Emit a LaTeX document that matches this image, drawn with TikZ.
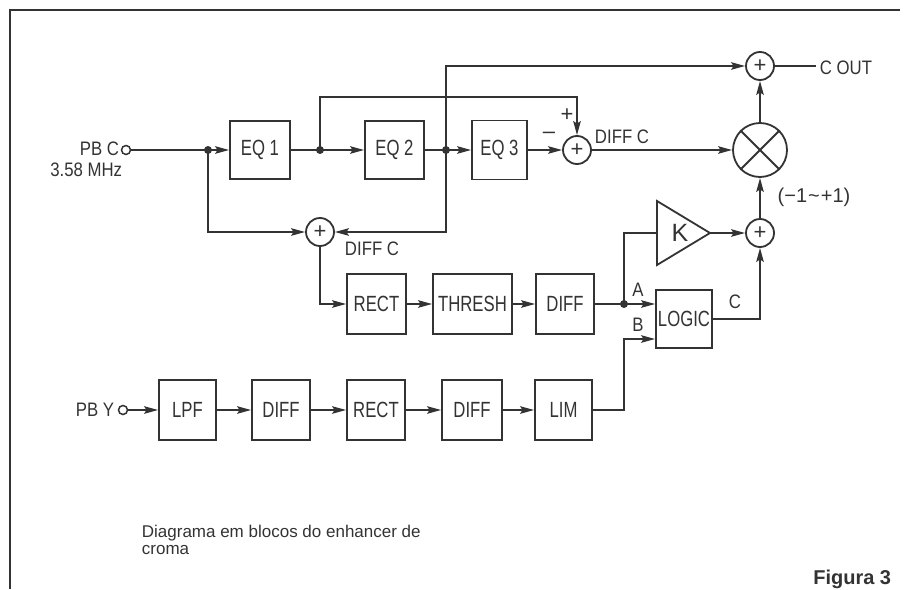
\documentclass[tikz,border=0pt]{standalone}
\usepackage{fontspec}
\setmainfont{Liberation Sans}
\newfontfamily\cond{Liberation Sans}[FakeStretch=0.76]
\newfontfamily\condl{Liberation Sans}[FakeStretch=0.86]
\usetikzlibrary{arrows.meta}
\definecolor{ink}{HTML}{333333}
\newcommand\bxfont{\cond\fontsize{22}{24}\selectfont}
\newcommand\lbfont{\condl\fontsize{19.5}{21}\selectfont}
\begin{document}
\begin{tikzpicture}[x=1pt,y=-1pt,line width=1.8pt,color=ink,
  >={Stealth[length=14pt,width=7.5pt,inset=2.5pt]},
  blk/.style n args={2}{draw,minimum width=#1,minimum height=#2,inner sep=0pt,font=\bxfont},
  sumn/.style={draw,circle,minimum size=28pt,inner sep=0pt,font=\fontsize{22}{24}\selectfont},
  lbl/.style={font=\lbfont,inner sep=0pt},
  jdot/.style={circle,fill,inner sep=0pt,minimum size=8pt},
  term/.style={circle,draw,fill=white,inner sep=0pt,minimum size=9pt,line width=1.5pt}]
\useasboundingbox (0,0) rectangle (907,589);
% frame
\draw[line width=2pt] (10,589) -- (10,10) -- (900,10);

% inputs
\node[term] (tpbc) at (126,150) {};
\node[lbl,anchor=east] (lpbc) at (120,149) {PB C};
\node[lbl,anchor=east] (lmhz) at (123,170) {3.58 MHz};
\node[term] (tpby) at (123,410) {};
\node[lbl,anchor=east] (lpby) at (115,410) {PB Y};

% blocks
\node[blk={60pt}{58pt}] (eq1) at (260,150) {EQ 1};
\node[blk={59pt}{58pt}] (eq2) at (394.5,150) {EQ 2};
\node[blk={55pt}{59pt}] (eq3) at (499.5,150) {EQ 3};
\node[blk={59pt}{60pt}] (rect1) at (376.5,304) {RECT};
\node[blk={79pt}{60pt}] (thr) at (472.5,304) {THRESH};
\node[blk={58pt}{60pt}] (dif1) at (565,304) {DIFF};
\node[blk={56pt}{58pt}] (logic) at (684,319) {LOGIC};
\node[blk={57pt}{60pt}] (lpf) at (187.5,410) {LPF};
\node[blk={58pt}{60pt}] (dif2) at (281,410) {DIFF};
\node[blk={58pt}{60pt}] (rect2) at (376,410) {RECT};
\node[blk={60pt}{60pt}] (dif3) at (472,410) {DIFF};
\node[blk={57pt}{60pt}] (lim) at (563.5,410) {LIM};

% summing points
\node[sumn] (sa) at (577,150) {+};
\node[sumn] (sout) at (760,66) {+};
\node[sumn] (sk) at (760,233) {+};
\node[sumn] (sd) at (320,232) {+};
\node[draw,circle,minimum size=54pt,inner sep=0pt] (mul) at (760,150) {};
\draw (mul.north west) -- (mul.south east) (mul.north east) -- (mul.south west);

% amplifier K
\coordinate (kin) at (657,233);
\coordinate (kout) at (710,233);
\draw (657,201) -- (kout) -- (657,265) -- cycle;
\node[font=\fontsize{25}{27}\selectfont,inner sep=0pt] (klbl) at (680,233) {K};

% junctions
\node[jdot] (j1) at (208,150) {};
\node[jdot] (j2) at (320,150) {};
\node[jdot] (j3) at (446,150) {};
\node[jdot] (j4) at (624,304) {};

% main chain
\draw[->] (tpbc) -- (eq1);
\draw[->] (eq1) -- (eq2);
\draw[->] (eq2) -- (eq3);
\draw[->] (eq3) -- (sa);
\coordinate (t1) at (577,97);
\draw[->] (j2.center) |- (t1) -- (sa.north);
\coordinate (t2) at (446,66);
\draw[->] (j3.center) -- (t2) -- (sout.west);
\draw[->] (sa) -- (mul);
\draw[->] (mul) -- (sout);
\coordinate (co) at (816,66);
\draw (sout) -- (co);
\node[lbl,anchor=west] (lcout) at (819,68) {C OUT};
\draw[->] (sk) -- (mul);
\draw[->] (kout) -- (sk);

% difference path
\coordinate (t3) at (208,232);
\draw[->] (j1.center) -- (t3) -- (sd.west);
\coordinate (t4) at (446,232);
\draw[->] (j3.center) -- (t4) -- (sd.east);
\coordinate (t5) at (320,304);
\draw[->] (sd.south) -- (t5) -- (rect1.west);
\draw[->] (rect1) -- (thr);
\draw[->] (thr) -- (dif1);
\draw[->] (dif1.east) -- (dif1.east -| logic.west);
\coordinate (t6) at (624,233);
\draw (j4.center) -- (t6) -- (kin);
\coordinate (t7) at (624,339);
\draw[->] (lim.east) -| (t7) -- (t7 -| logic.west);
\draw[->] (logic.east) -| (sk.south);

% luminance chain
\draw[->] (tpby) -- (lpf);
\draw[->] (lpf) -- (dif2);
\draw[->] (dif2) -- (rect2);
\draw[->] (rect2) -- (dif3);
\draw[->] (dif3) -- (lim);

% labels
\node[font=\fontsize{22}{24}\selectfont,inner sep=0pt] (lplus) at (567,115) {+};
\node[font=\fontsize{22}{24}\selectfont,inner sep=0pt] (lminus) at (549,135) {–};
\node[lbl] (ldiff1) at (622,137) {DIFF C};
\node[lbl] (ldiff2) at (372,249) {DIFF C};
\node[font=\fontsize{20}{22}\selectfont,inner sep=0pt] (lrange) at (814,197) {(−1\kern1pt\textasciitilde\kern1pt+1)};
\node[lbl] (la) at (638,290) {A};
\node[lbl] (lb) at (638,325) {B};
\node[lbl] (lc) at (735,302) {C};

% caption
\node[font=\fontsize{17}{15}\selectfont,anchor=base west,inner sep=0pt] (cap1) at (141,537) {Diagrama em blocos do enhancer de};
\node[font=\fontsize{17}{15}\selectfont,anchor=base west,inner sep=0pt] (cap2) at (141,554) {croma};
\node[font=\bfseries\fontsize{20}{22}\selectfont,anchor=base east,inner sep=0pt] (fig) at (892,584) {Figura 3};
\end{tikzpicture}
\end{document}
